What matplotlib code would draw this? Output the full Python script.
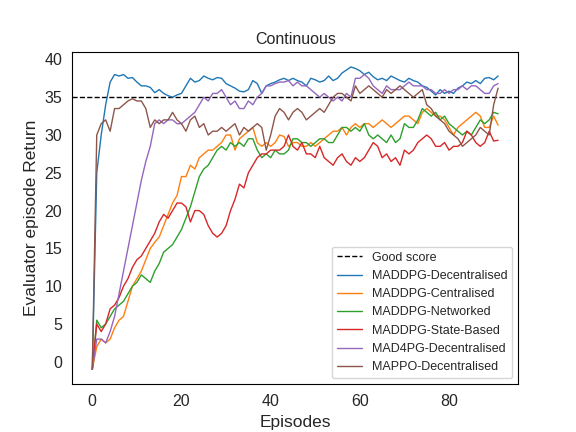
import matplotlib
matplotlib.use("Agg")
import matplotlib.pyplot as plt
import seaborn as sns
import numpy as np

sns.set_style("white")
plt.rcParams['font.family'] = ['Liberation Sans', 'DejaVu Sans']
good_score = 35
blue = [-1,25,30,34,37,38,37.8,38,37.5,37.6,37,36.5,36.5,36.3,35.6,36,35.5,35.2,35,35.3,35.5,36.5,37.5,37,37.2,37.8,37.5,37.3,37.6,37.5,
        36.8,36.5,36.2,35.8,35.7,36,37.2,36.8,35.5,36.5,36.8,37,37.3,37.5,37.2,37.5,37.2,37,36.5,37.5,37.3,37,37.2,37.8,37.2,37.5,38.2,38.6,39,38.8,
        38.5,38,38.3,37.7,37.3,37.5,37.2,37.8,37.5,37.2,37,37.5,37.2,37,36.5,36.3,35.8,35.3,36,35.5,35.8,35.5,36.2,36.5,37,36.8,37.2,36.8,37.5,37.6,37.3,37.8]
orange = [-1,2,3,2.5,3,4.5,5.5,6,8,10,11,12,13.5,15,15.8,16.5,18,19.5,21,22,24.5,24.5,26,25.5,27,27.5,28,28,28.5,29,
          30,30,28,29.5,30,30.5,31,29,28.5,29,28.5,29,30,29.8,28.5,29,29,28.5,28.5,29,28.5,29,29.5,30,30.5,30.5,31,30,31,31.5,
          31,31.5,31.5,31,31.5,32,31.5,31,31.5,32,32.5,32.5,32,31.5,33,33.5,33,32.5,32.5,32,31,30,31,31.5,32,32.5,33,32.5,31,31,32.5,31.3]
green = [-1,5.5,4.5,5,6,7,7.5,8,9,10,10.5,11.5,11,10.5,12,13,14.5,15,15.5,16.5,17.5,19,20.5,22.5,24.5,25.5,26,27,28,28.5,
         28,29,28.5,29,28.5,29.5,29.5,28,27,27.5,27,28,27.5,27.5,28,29.5,29.5,29,29,28.5,29,29.5,29.5,29,29,30,31,31,30.5,31,
         30.5,31.5,30,29.5,30,29.5,29,30,29,29.5,31.5,31,31,32,33.5,33,32.5,33,32,32.5,31.5,31,30.5,30,30.5,30,31,32,31.5,32,33,32.8]
red = [-1,5,4,5,7,7.5,8.5,10,11,12.5,13.5,14,15,16,17,18.5,19.5,19,20,21,21,20.5,18.5,20,20,19.5,18,17,16.5,17,
       18,20,21.5,23.5,23,25,26,27,27.5,27.5,28,28,28,28.5,30,28.5,28,29,27.5,27.5,27,28.5,27,26.5,26,27,27.5,26.5,26,27,
       26.5,27,28,29,28.5,27,27.5,26.5,27,26,28,27.5,28,29,29.5,30,29.5,28.5,28.5,29,28,28.5,28.5,29,30.5,30,29,28.5,29,30.5,29.2,29.3]
purple = [-1,3,3,2.5,4,6,9,12,15,18,21,24,26.5,28.5,31.5,32,31.5,32,32,31.5,31.5,32,32.5,33,34,35,34.5,35.5,35.5,36,
          35,34,34.5,33.5,33.5,34.5,34,35,35.5,36.5,36.5,36.8,37,37,37.2,36.5,37,36.5,36.5,36,35.5,35,35.5,35,34.5,35,34.5,35.5,35,37.5,
          37.5,38,37.5,36.5,36,35.5,36.5,36,36,36,36.5,37,36.5,36.5,36.5,36,36,35.5,35.5,36,35.5,36,36,36.5,36,36.5,36.5,36,35.5,35.5,36.5,36.8]
brown = [-1,30,31.5,32,30.5,33.5,33.5,34,34.5,34.8,34.5,34.5,33.5,31,32,31.5,32,32,33,32,31.5,30.5,32,32.5,31,31.5,30,30.5,30.5,31,
         30.5,31,31.5,30,31,30.5,31,31.5,31,28,30,32.5,33.5,33,32,33,33.5,33,32,32.5,33,33.5,33,34,35,35.5,35.5,35,34.5,36.5,
         35.5,36,36.5,36,35.5,35,36,35.5,36,36.5,36,35.5,35,35.5,36,34,33.5,32.5,32,31.5,30.5,30,29.5,28.5,29,29.5,30,31,30.5,30,34,36.2]

fig, ax = plt.subplots(figsize=(5.76, 4.32), dpi=100)
ax.axhline(good_score, color="black", ls="--", lw=1, label="Good score")
x = np.arange(len(blue))
for ys, c, lab in [(blue, "#1f77b4", "MADDPG-Decentralised"), (orange, "#ff7f0e", "MADDPG-Centralised"),
                   (green, "#2ca02c", "MADDPG-Networked"), (red, "#d62728", "MADDPG-State-Based"),
                   (purple, "#9467bd", "MAD4PG-Decentralised"), (brown, "#8c564b", "MAPPO-Decentralised")]:
    ax.plot(x, ys, color=c, lw=1, label=lab)
ax.set_title("Continuous", fontsize=11.5)
ax.set_xlabel("Episodes", fontsize=12.5)
ax.set_ylabel("Evaluator episode Return", fontsize=12.5)
ax.tick_params(labelsize=11.5)
ax.set_yticks(range(0, 41, 5))
ax.set_ylim(-3, 41)
ax.legend(loc="lower right", fontsize=9, frameon=True)
for s in ax.spines.values():
    s.set_color("black")
fig.savefig("out.png")
